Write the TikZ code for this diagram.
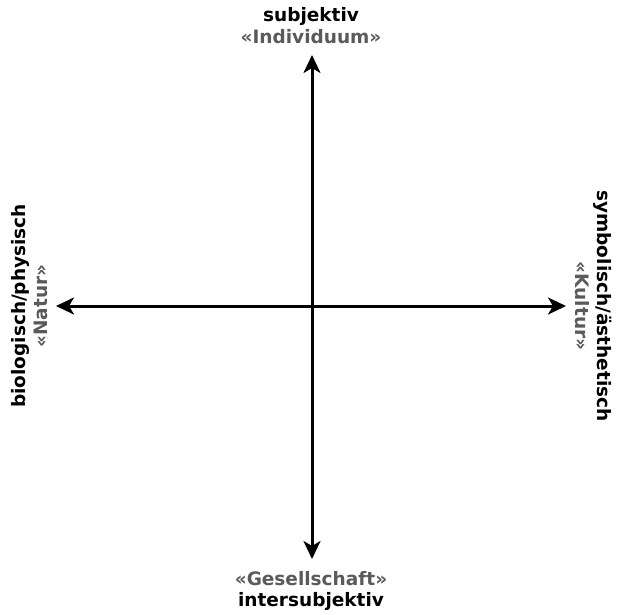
\documentclass[tikz,border=0pt]{standalone}
\usepackage{fontspec}
\setmainfont{DejaVu Sans}
\usetikzlibrary{arrows.meta, positioning}
\definecolor{cSub}{RGB}{90,90,90}

\begin{document}
\begin{tikzpicture}[x=1pt, y=-1pt,
    every node/.style={font=\bfseries\fontsize{18.5}{22}\selectfont, inner sep=0pt},
    axis/.style={line width=3pt, {Stealth[length=18pt,width=17pt,inset=5pt]}-{Stealth[length=18pt,width=17pt,inset=5pt]}},
    sub/.style={text=cSub}]
  \useasboundingbox (0,0) rectangle (617,614);
  % axes
  \coordinate (top) at (312,55);
  \coordinate (bot) at (312,559);
  \coordinate (lft) at (56,306);
  \coordinate (rgt) at (566,306);
  \draw[axis] (top) -- (bot);
  \draw[axis] (lft) -- (rgt);
  % labels
  \node (subj) at (311,16) {subjektiv};
  \node[sub] (indiv) at (311,37) {«Individuum»};
  \node[sub] (ges) at (311,579) {«Gesellschaft»};
  \node (inter) at (311,601) {intersubjektiv};
  \node[rotate=90] (bio) at (20,306) {biologisch/physisch};
  \node[sub, rotate=90] (natur) at (41,306) {«Natur»};
  \node[rotate=-90] (sym) at (603,306) {symbolisch/ästhetisch};
  \node[sub, rotate=-90] (kultur) at (582,306) {«Kultur»};
\end{tikzpicture}
\end{document}
